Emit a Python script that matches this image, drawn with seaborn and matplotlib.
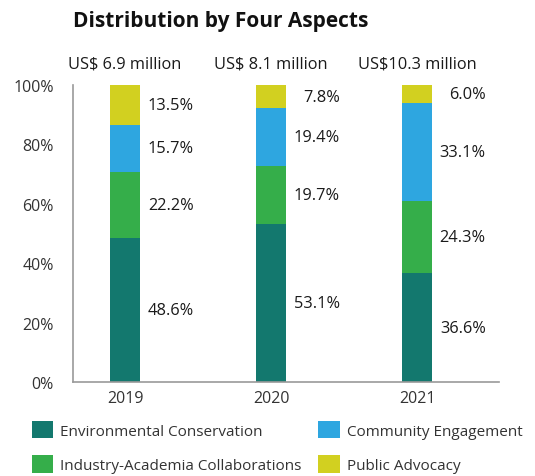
import matplotlib
matplotlib.use("Agg")
import matplotlib.pyplot as plt
import seaborn as sns
import numpy as np
import pandas as pd
from matplotlib.patches import Patch

years = ["2019", "2020", "2021"]
totals = ["US$ 6.9 million", "US$ 8.1 million", "US$10.3 million"]
categories = ["Environmental Conservation", "Industry-Academia Collaborations",
              "Community Engagement", "Public Advocacy"]
env = [48.6, 53.1, 36.6]
ind = [22.2, 19.7, 24.3]
com = [15.7, 19.4, 33.1]
pub = [13.5, 7.8, 6.0]
colors = ["#13786E", "#35AE4A", "#2EA6E0", "#D2D020"]
yticks = [0, 20, 40, 60, 80, 100]

sns.set_theme(style="white")
plt.rcParams['font.family'] = ['Open Sans', 'DejaVu Sans']

fig = plt.figure(figsize=(5.35, 4.77), dpi=100)
ax = fig.add_axes([73/535, 1-383/477, (499-73)/535, (383-86)/477])

series = [env, ind, com, pub]
cum = np.cumsum(np.array(series), axis=0)  # shape 4x3
# draw from top (total) down so lower segments overlay
for i in range(3, -1, -1):
    df = pd.DataFrame({"year": years, "value": cum[i]})
    sns.barplot(data=df, x="year", y="value", order=years, color=colors[i],
                width=0.205, saturation=1, ax=ax, edgecolor="none", linewidth=0)

# labels
for j in range(3):
    bottoms = np.concatenate([[0], cum[:-1, j]])
    for i in range(4):
        val = series[i][j]
        ymid = bottoms[i] + val / 2
        ax.text(j + 0.47, ymid, f"{val:.1f}%", ha="right", va="center",
                fontsize=11.8, color="#1a1a1a")
    ax.text(j, 104.5, totals[j], ha="center", va="bottom", fontsize=11.8,
            color="#1a1a1a", clip_on=False)

ax.set_xlim(-0.356, 2.56)
ax.set_ylim(0, 100)
ax.set_yticks(yticks)
ax.set_yticklabels([f"{t}%" for t in yticks])
ax.set_xlabel("")
ax.set_ylabel("")
ax.tick_params(axis="y", labelsize=11.5, labelcolor="#333333", length=0, pad=14)
ax.tick_params(axis="x", labelsize=11.5, labelcolor="#333333", length=0, pad=6)
for s in ["top", "right"]:
    ax.spines[s].set_visible(False)
for s in ["left", "bottom"]:
    ax.spines[s].set_color("#999999")
    ax.spines[s].set_linewidth(1.2)

fig.text(73/535, 1-22/477, "Distribution by Four Aspects", ha="left", va="center",
         fontsize=15, fontweight="bold", color="#111111")

handles = [Patch(facecolor=colors[i], edgecolor="none") for i in range(4)]
fig.legend(handles, categories, ncol=2, loc="upper left",
           bbox_to_anchor=(18/535, 1-408/477), frameon=False,
           fontsize=11, handlelength=1.4, handleheight=1.4,
           columnspacing=1.1, handletextpad=0.46, labelspacing=1.08,
           labelcolor="#333333")

fig.savefig("out.png", dpi=100)
